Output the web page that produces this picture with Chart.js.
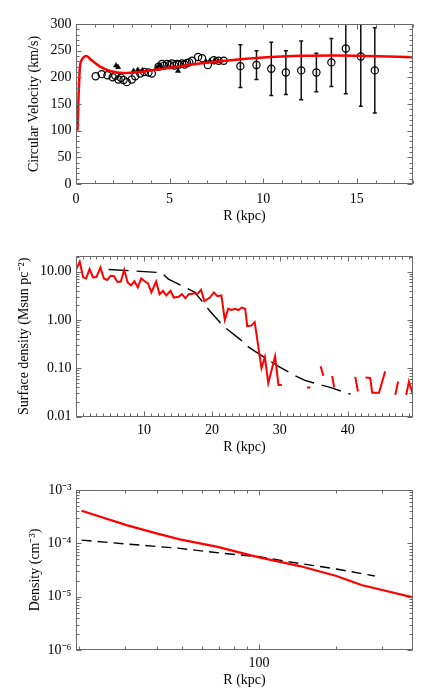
<!DOCTYPE html>
<html><head><meta charset="utf-8">
<script src="https://cdn.jsdelivr.net/npm/chart.js@4.4.1/dist/chart.umd.min.js"></script>
<style>
html,body{margin:0;padding:0;background:#fff;}
#wrap{position:relative;width:436px;height:698px;background:#fff;}
canvas{position:absolute;left:0;top:0;}
</style></head><body>
<div id="wrap">
<canvas id="c1" width="436" height="698"></canvas>
<canvas id="c2" width="436" height="698"></canvas>
<canvas id="c3" width="436" height="698"></canvas>
</div>
<script>
// ===== Panel 1: circular velocity =====
const vcModelR = [0.08,0.13,0.21,0.3,0.39,0.54,0.84,1.29,1.82,2.53,3.6,5,6.6,8.4,10.2,12,13.8,15.6,18];
const vcModel  = [100,157,220,232,237,240,232,220,212,208,211,218,226,232.5,237.5,240.5,241,240,237.5];
const vInnerR = [1.05,1.37,1.68,1.96,2.1,2.27,2.4,2.54,2.71,2.98,3.16,3.43,3.64,3.87,4.05,4.41,4.59,4.7,4.86,5.0,5.12,5.25,5.39,5.5,5.66,5.8,5.93,6.05,6.2,6.52,6.73,7.04,7.36,7.62,7.89];
const vInner  = [202,206,204,200,203,196,199,195,191,196,202,207,210,209,207,220,225,222,225,223,226,222,225,224,226,224,227,228,231,238,236,223,232,231,231];
const vTriR = [2.14,2.25,3.07,3.3,3.55,4.33,4.5,5.45,6.95,7.15,7.4,7.6];
const vTri  = [222,219,212,214,213,219,222,212,229,231,232,230];
const vOutR = [8.78,9.64,10.43,11.21,12.03,12.84,13.64,14.41,15.21,15.96];
const vOut  = [221,223,216,209,213,209,228,254,239,213];
const vErr  = [40,27,50,41,55,36,45,85,93,80];
const vXTicks = [0,5,10,15];
const vYTicks = [0,50,100,150,200,250,300];

// ===== Panel 2: surface density =====
const sdR = [0,0.55,1.05,1.5,2.0,2.5,3.0,3.6,4.1,4.6,5.1,5.6,6.1,6.6,7.1,7.6,8.1,8.6,9.1,9.6,10.1,10.6,11.1,11.8,12.3,12.8,13.3,13.9,14.4,15.1,15.6,16.1,16.6,17.4,17.9,18.4,18.9,19.7,20.3,20.8,21.4,21.9,22.4,22.9,23.4,23.9,24.4,24.9,25.2,25.8,26.3,27.3,27.8,28.3,29.3,29.8,30.3,30.8,34.0,34.5,35.2,36.0,36.4,37.0,37.7,38.0,39.5,41.1,41.5,42.0,42.6,43.3,43.6,44.6,45.5,46.2,47.0,47.4,48.0,48.6,49.0,49.6];
const sdGas = [10.9,16,7.6,7.2,11.3,7.6,7.7,12.2,7.2,6.7,8.2,8.0,6.1,6.2,10.9,5.95,5.2,6.3,4.7,7.2,6.3,5.7,3.7,6.2,3.4,4.0,3.2,4.0,2.9,3.0,3.4,2.8,3.4,3.5,3.5,4.2,2.45,2.9,3.7,3.1,3.2,1.0,1.7,1.6,1.7,1.6,1.8,1.7,0.74,0.76,0.9,0.1,0.17,0.049,0.176,0.045,0.045,null,0.04,0.04,null,0.11,0.07,null,0.069,0.04,null,0.066,0.033,null,0.064,0.063,0.031,0.031,0.086,null,0.028,0.053,null,0.028,0.053,0.028];
const sdFitR = [4.8,8,12.6,13.6,15.8,17.5,19.7,21.7,24.1,25.3,27.5,29.8,32,33.7,35.3,37.4,40.4];
const sdFit  = [11,10.4,9.5,7.0,4.9,3.7,1.53,0.74,0.4,0.28,0.176,0.109,0.073,0.056,0.048,0.04,0.029];
const sdXTicks = [10,20,30,40];
const sdYTicks = [0.01,0.1,1,10];
const sdYLabels = ['0.01','0.10','1.00','10.00'];

// ===== Panel 3: density =====
const rhoR   = [20.4,30.5,39.9,49.1,68.3,100,143.9,200,250,397];
const rhoSim = [4.09e-4,2.2e-4,1.54e-4,1.19e-4,8.65e-5,5.46e-5,3.75e-5,2.44e-5,1.65e-5,9.7e-6];
const rhoFitR = [20.4,30,49.1,70,100,143.9,200,282];
const rhoFit  = [1.15e-4,9.8e-5,8.05e-5,6.6e-5,5.6e-5,4.2e-5,3.3e-5,2.44e-5];
const rhoXTicks = [100];
const rhoYTicks = [1e-6,1e-5,1e-4,1e-3];
const rhoYLabels = ['10\u207B\u2076','10\u207B\u2075','10\u207B\u2074','10\u207B\u00B3'];

const FONT = "'Liberation Serif','Times New Roman',serif";
const FRAME = '#6a6a6a';
const RED = '#ff0000';
const pts = (xs, ys) => xs.map((x, i) => ({x, y: ys[i]}));
const range = (a, b, s) => { const r = []; for (let v = a; v <= b + 1e-9; v += s) r.push(+v.toFixed(6)); return r; };
const logMinor = (d0, d1) => { const r = []; for (let d = d0; d <= d1; d++) for (let k = 2; k <= 9; k++) r.push(k * Math.pow(10, d)); return r; };

const framePlugin = {
  id: 'frame',
  afterDatasetsDraw(chart, args, o) {
    const {ctx, chartArea: a, scales: {x, y}} = chart;
    ctx.save();
    ctx.strokeStyle = FRAME; ctx.lineWidth = 1;
    const L = Math.round(a.left) + 0.5, R = Math.round(a.right) - 0.5, T = Math.round(a.top) + 0.5, B = Math.round(a.bottom) - 0.5;
    ctx.strokeRect(L, T, R - L, B - T);
    ctx.beginPath();
    const xt = (list, len) => list.forEach(v => { const p = x.getPixelForValue(v); if (p < a.left || p > a.right) return; const q = Math.round(p) + 0.5; ctx.moveTo(q, B); ctx.lineTo(q, B - len); ctx.moveTo(q, T); ctx.lineTo(q, T + len); });
    const yt = (list, len) => list.forEach(v => { const p = y.getPixelForValue(v); if (p < a.top || p > a.bottom) return; const q = Math.round(p) + 0.5; ctx.moveTo(L, q); ctx.lineTo(L + len, q); ctx.moveTo(R, q); ctx.lineTo(R - len, q); });
    xt(o.xMajor, 5); xt(o.xMinor, 3); yt(o.yMajor, 5); yt(o.yMinor, 3);
    ctx.stroke();
    ctx.restore();
  }
};

const errPlugin = {
  id: 'errbars',
  beforeDatasetsDraw(chart, args, o) {
    if (!o.xs) return;
    const {ctx, chartArea: a, scales: {x, y}} = chart;
    ctx.save();
    ctx.beginPath(); ctx.rect(a.left, a.top, a.right - a.left, a.bottom - a.top); ctx.clip();
    ctx.strokeStyle = '#111'; ctx.lineWidth = 1.5;
    ctx.beginPath();
    o.xs.forEach((xv, i) => {
      const px = x.getPixelForValue(xv);
      const top = y.getPixelForValue(o.ys[i] + o.err[i]);
      const bot = y.getPixelForValue(o.ys[i] - o.err[i]);
      ctx.moveTo(px, top); ctx.lineTo(px, bot);
      ctx.moveTo(px - 2, top); ctx.lineTo(px + 2, top);
      ctx.moveTo(px - 2, bot); ctx.lineTo(px + 2, bot);
    });
    ctx.stroke();
    ctx.restore();
  }
};

function axisX(type, min, max, ticks, labels, title, H, pad) {
  return {
    type, position: 'bottom', min, max,
    grid: {display: false, drawTicks: false}, border: {display: false},
    afterBuildTicks: s => { s.ticks = ticks.map(v => ({value: v})); },
    afterFit: s => { s.height = H; },
    ticks: {autoSkip: false, maxRotation: 0, padding: pad, color: '#000', font: {family: FONT, size: 14},
      callback: (v, i) => labels[i]},
    title: {display: true, text: title, color: '#000', font: {family: FONT, size: 14, lineHeight: 1.2}, padding: 0}
  };
}
function axisY(type, min, max, ticks, labels, title, W) {
  return {
    type, position: 'left', min, max,
    grid: {display: false, drawTicks: false}, border: {display: false},
    afterBuildTicks: s => { s.ticks = ticks.map(v => ({value: v})); },
    afterFit: s => { s.width = W; },
    ticks: {autoSkip: false, padding: 4.5, color: '#000', font: {family: FONT, size: 14},
      callback: (v, i) => labels[i]},
    title: {display: true, text: title, color: '#000', font: {family: FONT, size: 14, lineHeight: 1.2}, padding: 0}
  };
}
function baseOptions(pad, scales, frame, err) {
  return {
    responsive: false, animation: false, devicePixelRatio: 1,
    layout: {padding: pad},
    scales,
    plugins: {legend: {display: false}, tooltip: {enabled: false}, frame, errbars: err || {}}
  };
}

// Panel 1
new Chart(document.getElementById('c1'), {
  type: 'scatter',
  data: {datasets: [
    {data: pts(vcModelR, vcModel), showLine: true, borderColor: RED, borderWidth: 2.5, pointRadius: 0, cubicInterpolationMode: 'monotone', order: 0},
    {data: pts(vInnerR, vInner), pointStyle: 'circle', pointRadius: 3.6, borderColor: '#000', backgroundColor: 'rgba(0,0,0,0)', borderWidth: 1.2, order: 2},
    {data: pts(vTriR, vTri), pointStyle: 'triangle', pointRadius: 3, borderColor: '#000', backgroundColor: '#000', borderWidth: 0.5, order: 2},
    {data: pts(vOutR, vOut), pointStyle: 'circle', pointRadius: 3.6, borderColor: '#000', backgroundColor: 'rgba(0,0,0,0)', borderWidth: 1.2, order: 2}
  ]},
  options: baseOptions({left: 26, right: 23, top: 24, bottom: 698 - 224.4},
    {x: axisX('linear', 0, 18, vXTicks, vXTicks.map(String), 'R (kpc)', 40.4, 7),
     y: axisY('linear', 0, 300, vYTicks, vYTicks.map(String), 'Circular Velocity (km/s)', 50)},
    {xMajor: vXTicks, xMinor: range(1, 18, 1).filter(v => v % 5), yMajor: vYTicks, yMinor: range(10, 290, 10).filter(v => v % 50)},
    {xs: vOutR, ys: vOut, err: vErr}),
  plugins: [framePlugin, errPlugin]
});

// Panel 2
new Chart(document.getElementById('c2'), {
  type: 'scatter',
  data: {datasets: [
    {data: pts(sdR, sdGas), showLine: true, spanGaps: false, borderColor: RED, borderWidth: 2, pointRadius: 0, order: 0},
    {data: pts(sdFitR, sdFit), showLine: true, borderColor: '#000', borderWidth: 1.4, borderDash: [20, 8], pointRadius: 0, order: 1}
  ]},
  options: baseOptions({left: 15.6, right: 23, top: 256, bottom: 698 - 455.4},
    {x: axisX('linear', 0, 49.6, sdXTicks, sdXTicks.map(String), 'R (kpc)', 38.9, 5),
     y: axisY('logarithmic', 0.01, 21, sdYTicks, sdYLabels, 'Surface density (Msun pc\u207B\u00B2)', 60.4)},
    {xMajor: sdXTicks, xMinor: range(1, 49, 1).filter(v => v % 10), yMajor: sdYTicks, yMinor: logMinor(-2, 1)}),
  plugins: [framePlugin]
});

// Panel 3
new Chart(document.getElementById('c3'), {
  type: 'scatter',
  data: {datasets: [
    {data: pts(rhoR, rhoSim), showLine: true, borderColor: RED, borderWidth: 2.2, pointRadius: 0, order: 0},
    {data: pts(rhoFitR, rhoFit), showLine: true, borderColor: '#000', borderWidth: 1.4, borderDash: [10, 6], pointRadius: 0, order: 1}
  ]},
  options: baseOptions({left: 26.6, right: 23, top: 490, bottom: 698 - 688.4},
    {x: axisX('logarithmic', 19.4, 397, rhoXTicks, ['100'], 'R (kpc)', 38.4, 4.6),
     y: axisY('logarithmic', 1e-6, 1e-3, rhoYTicks, rhoYLabels, 'Density (cm\u207B\u00B3)', 49.4)},
    {xMajor: rhoXTicks, xMinor: [20,30,40,50,60,70,80,90,200,300], yMajor: rhoYTicks, yMinor: logMinor(-6, -4)}),
  plugins: [framePlugin]
});
</script>
</body></html>
